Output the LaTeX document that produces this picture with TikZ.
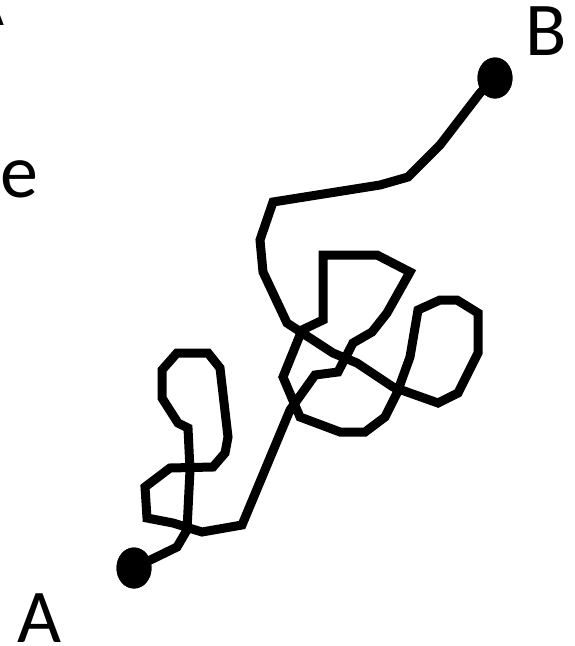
\documentclass[tikz,border=0pt]{standalone}
\usepackage{fontspec}
\setmainfont{Carlito}
\usetikzlibrary{shapes.geometric}
\begin{document}
\begin{tikzpicture}[x=1pt,y=-1pt,
  endpoint/.style={ellipse,fill=black,draw=none,inner sep=0pt,
    minimum width=35pt,minimum height=41pt},
  walk/.style={line width=9pt,line join=miter,black},
  letter/.style={inner sep=0pt,font=\fontsize{76}{80}\selectfont}]
\useasboundingbox (0,0) rectangle (575,646);
\clip (0,0) rectangle (575,646);

% labels
\node[letter,anchor=base] (labA) at (39.5,642) {A};
\node[letter,anchor=base] (labB) at (546,55) {B};
\node[letter,anchor=base west] (labe) at (0,197) {e};
\node[letter,anchor=base east] (labA2) at (5,25) {A};

% end points of the walk
\node[endpoint] (pA) at (134,568) {};
\node[endpoint] (pB) at (495,78) {};

% the tangled path from A to B
\draw[walk] (pA.center)
  -- (177,547) -- (187,530) -- (190,470) -- (188,428) -- (178,423)
  -- (162,398) -- (162,370) -- (177,353) -- (208,353) -- (220,368)
  -- (228,437) -- (225,453) -- (213,467) -- (170,468) -- (145,487)
  -- (147,518) -- (173,523) -- (202,532) -- (242,525) -- (290,410)
  -- (315,375) -- (338,372) -- (353,343) -- (372,332) -- (387,313)
  -- (410,272) -- (377,255) -- (323,255) -- (323,320) -- (302,330)
  -- (283,377) -- (300,417) -- (340,432) -- (365,432) -- (385,417)
  -- (397,393) -- (410,357) -- (418,310) -- (440,300) -- (457,300)
  -- (478,313) -- (478,353) -- (458,393) -- (438,403) -- (393,387)
  -- (357,363) -- (333,353) -- (287,323) -- (263,272) -- (260,240)
  -- (273,202) -- (380,185) -- (408,177) -- (440,145) -- (480,93)
  -- (pB.center);

% redraw the dots on top of the line ends
\node[endpoint] at (pA.center) {};
\node[endpoint] at (pB.center) {};
\end{tikzpicture}
\end{document}
